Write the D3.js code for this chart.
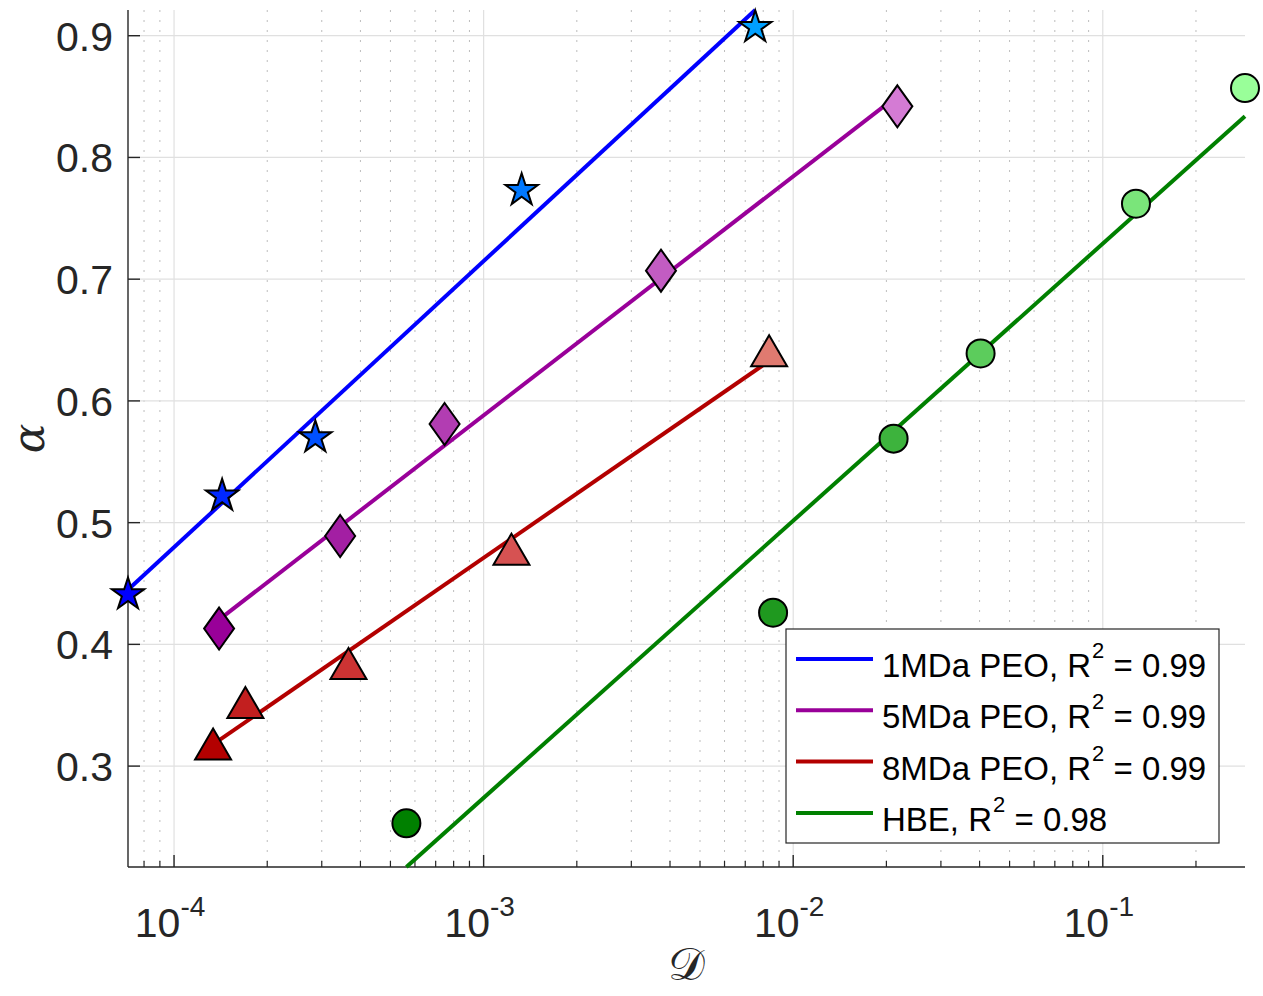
<!DOCTYPE html>
<html><head><meta charset="utf-8">
<script src="https://cdn.jsdelivr.net/npm/d3@7"></script>
<style>
body{margin:0;background:#fff}
text{font-family:"Liberation Sans",Arial,Helvetica,sans-serif}
</style>
</head><body>
<svg id="chart" width="1263" height="996"></svg>
<script>
// ---------- data ----------
const seriesNames = ["1MDa PEO", "5MDa PEO", "8MDa PEO", "HBE"];
const r2Labels = ["0.99", "0.99", "0.99", "0.98"];
const lineColors = ["#0000ff", "#990099", "#b30000", "#008000"];
const markerShapes = ["star", "diamond", "triangle", "circle"];

const peo1D = [7.1e-5, 1.43e-4, 2.86e-4, 1.327e-3, 7.54e-3];
const peo1Alpha = [0.441, 0.522, 0.570, 0.773, 0.907];
const peo1Fill = ["#0000ff", "#0028ff", "#0050ff", "#0078ff", "#00a0ff"];

const peo5D = [1.398e-4, 3.44e-4, 7.48e-4, 3.74e-3, 2.17e-2];
const peo5Alpha = [0.413, 0.489, 0.581, 0.707, 0.842];
const peo5Fill = ["#990099", "#a31fa3", "#b23db2", "#c25cc2", "#d47bd4"];

const peo8D = [1.337e-4, 1.70e-4, 3.66e-4, 1.23e-3, 8.36e-3];
const peo8Alpha = [0.317, 0.351, 0.383, 0.477, 0.640];
const peo8Fill = ["#b30000", "#c21f1f", "#cc3333", "#d65252", "#e07a70"];

const hbeD = [5.63e-4, 8.61e-3, 2.11e-2, 4.03e-2, 0.128, 0.288];
const hbeAlpha = [0.253, 0.426, 0.569, 0.639, 0.762, 0.857];
const hbeFill = ["#008000", "#1f991f", "#3db33d", "#5ccc5c", "#7ae57a", "#99ff99"];

const yTickValues = [0.3, 0.4, 0.5, 0.6, 0.7, 0.8, 0.9];
const yTickLabels = ["0.3", "0.4", "0.5", "0.6", "0.7", "0.8", "0.9"];
const xMajorTicks = [1e-4, 1e-3, 1e-2, 1e-1];
const xMajorExponents = ["-4", "-3", "-2", "-1"];

// ---------- build ----------
const seriesD = [peo1D, peo5D, peo8D, hbeD];
const seriesA = [peo1Alpha, peo5Alpha, peo8Alpha, hbeAlpha];
const seriesF = [peo1Fill, peo5Fill, peo8Fill, hbeFill];

function logFit(xs, ys) {
  const lx = xs.map(Math.log10);
  const mx = d3.mean(lx), my = d3.mean(ys);
  const b = d3.sum(lx, (v, i) => (v - mx) * (ys[i] - my)) / d3.sum(lx, v => (v - mx) ** 2);
  const a = my - b * mx;
  return d3.extent(xs).map(x => ({x, y: a + b * Math.log10(x)}));
}
const fits = seriesD.map((d, i) => logFit(d, seriesA[i]));

const allX = seriesD.flat();
const allY = seriesA.flat().concat(fits.flat().map(p => p.y));

const m = {left: 128, right: 1245, top: 10, bottom: 867};
const svg = d3.select("#chart");

const x = d3.scaleLog().domain(d3.extent(allX)).range([m.left, m.right]);
const y = d3.scaleLinear().domain(d3.extent(allY)).range([m.bottom, m.top]);

// minor ticks
const xMinor = [];
for (let e = -5; e <= 0; e++) for (let k = 2; k <= 9; k++) {
  const v = k * Math.pow(10, e);
  if (v >= x.domain()[0] && v <= x.domain()[1]) xMinor.push(v);
}

const grid = svg.append("g");
grid.selectAll(".mn").data(xMinor).join("line")
  .attr("x1", d => x(d)).attr("x2", d => x(d))
  .attr("y1", m.top).attr("y2", m.bottom)
  .attr("stroke", "#bdbdbd").attr("stroke-width", 1).attr("stroke-dasharray", "2,8");
grid.selectAll(".mj").data(xMajorTicks).join("line")
  .attr("x1", d => x(d)).attr("x2", d => x(d))
  .attr("y1", m.top).attr("y2", m.bottom)
  .attr("stroke", "#e0e0e0").attr("stroke-width", 1.2);
grid.selectAll(".hy").data(yTickValues).join("line")
  .attr("x1", m.left).attr("x2", m.right)
  .attr("y1", d => y(d)).attr("y2", d => y(d))
  .attr("stroke", "#e0e0e0").attr("stroke-width", 1.2);

// axes
const axisColor = "#262626";
const ax = svg.append("g");
ax.append("line").attr("x1", m.left).attr("x2", m.left).attr("y1", m.top).attr("y2", m.bottom)
  .attr("stroke", axisColor).attr("stroke-width", 1.4);
ax.append("line").attr("x1", m.left).attr("x2", m.right).attr("y1", m.bottom).attr("y2", m.bottom)
  .attr("stroke", axisColor).attr("stroke-width", 1.4);
ax.selectAll(".yt").data(yTickValues).join("line")
  .attr("x1", m.left).attr("x2", m.left + 12)
  .attr("y1", d => y(d)).attr("y2", d => y(d))
  .attr("stroke", axisColor).attr("stroke-width", 1.4);
ax.selectAll(".xt").data(xMajorTicks).join("line")
  .attr("x1", d => x(d)).attr("x2", d => x(d))
  .attr("y1", m.bottom).attr("y2", m.bottom - 12)
  .attr("stroke", axisColor).attr("stroke-width", 1.4);
ax.selectAll(".xm").data(xMinor).join("line")
  .attr("x1", d => x(d)).attr("x2", d => x(d))
  .attr("y1", m.bottom).attr("y2", m.bottom - 6)
  .attr("stroke", axisColor).attr("stroke-width", 1.2);

ax.selectAll(".yl").data(yTickValues).join("text")
  .attr("x", m.left - 15).attr("y", d => y(d) + 15)
  .attr("text-anchor", "end").attr("font-size", 41).attr("fill", axisColor)
  .text((d, i) => yTickLabels[i]);

const xl = ax.selectAll(".xl").data(xMajorTicks).join("text")
  .attr("x", d => x(d) - 4).attr("y", 937)
  .attr("text-anchor", "middle").attr("font-size", 41).attr("fill", axisColor);
xl.append("tspan").text("10");
xl.append("tspan").attr("dy", -21).attr("font-size", 28).text((d, i) => xMajorExponents[i]);

// axis labels
svg.append("text").attr("transform", `translate(44,${(m.top + m.bottom) / 2}) rotate(-90)`)
  .attr("text-anchor", "middle").attr("font-size", 44).attr("fill", axisColor)
  .style("font-family", "'DejaVu Serif','Liberation Serif',serif").style("font-style", "italic")
  .text("α");
svg.append("text").attr("x", (m.left + m.right) / 2).attr("y", 980)
  .attr("text-anchor", "middle").attr("font-size", 46).attr("fill", axisColor)
  .style("font-family", "'DejaVu Serif','Noto Sans','DejaVu Sans',serif")
  .text("𝒟");

// fit lines
const line = d3.line().x(p => x(p.x)).y(p => y(p.y));
svg.append("g").selectAll("path").data(fits).join("path")
  .attr("d", line).attr("fill", "none")
  .attr("stroke", (d, i) => lineColors[i]).attr("stroke-width", 4);

// markers
function markerPath(shape) {
  const p = d3.path();
  if (shape === "star") return d3.symbol(d3.symbolStar, 17 * 17 / 0.8908130915)();
  if (shape === "diamond") { p.moveTo(0, -21); p.lineTo(15, 0); p.lineTo(0, 21); p.lineTo(-15, 0); p.closePath(); }
  if (shape === "triangle") { p.moveTo(0, -17); p.lineTo(18, 14); p.lineTo(-18, 14); p.closePath(); }
  if (shape === "circle") { p.arc(0, 0, 14, 0, 2 * Math.PI); p.closePath(); }
  return p.toString();
}
const mk = svg.append("g");
seriesD.forEach((ds, si) => {
  const pts = ds.map((d, i) => ({d, a: seriesA[si][i], f: seriesF[si][i]}));
  mk.append("g").selectAll("path").data(pts).join("path")
    .attr("d", markerPath(markerShapes[si]))
    .attr("transform", p => `translate(${x(p.d)},${y(p.a)})`)
    .attr("fill", p => p.f).attr("stroke", "#000").attr("stroke-width", 2)
    .attr("stroke-linejoin", "miter");
});

// legend
const lg = svg.append("g");
lg.append("rect").attr("x", 786).attr("y", 629).attr("width", 433).attr("height", 214)
  .attr("fill", "#fff").attr("stroke", axisColor).attr("stroke-width", 1.2);
const rows = lg.selectAll(".row").data(seriesNames).join("g")
  .attr("transform", (d, i) => `translate(796,${659 + i * 51.3})`);
rows.append("line").attr("x1", 0).attr("x2", 77).attr("y1", 0).attr("y2", 0)
  .attr("stroke", (d, i) => lineColors[i]).attr("stroke-width", 4);
const lt = rows.append("text").attr("x", 86).attr("y", 18).attr("font-size", 33).attr("fill", "#000");
lt.append("tspan").text(d => d + ", R");
lt.append("tspan").attr("dx", 1).attr("dy", -19).attr("font-size", 22).text("2");
lt.append("tspan").attr("dy", 19).text((d, i) => " = " + r2Labels[i]);
</script>
</body></html>
